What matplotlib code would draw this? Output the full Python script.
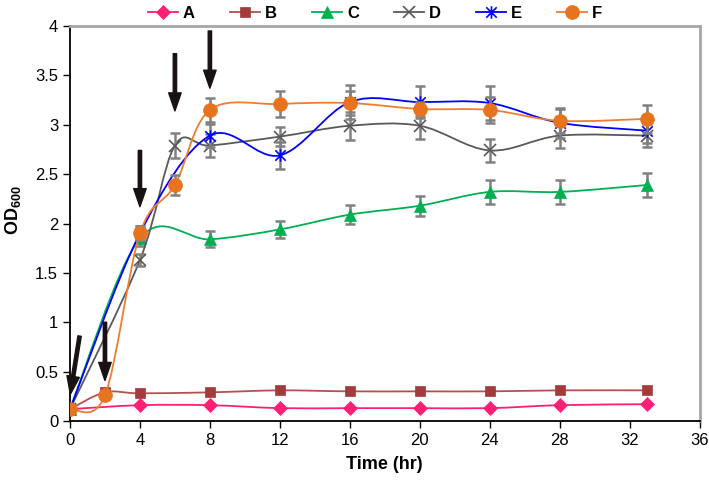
import numpy as np
import matplotlib
matplotlib.use("Agg")
from matplotlib import pyplot as plt
from matplotlib.path import Path
from matplotlib.patches import PathPatch
from matplotlib.lines import Line2D

plt.rcParams['font.family'] = ['Liberation Sans', 'DejaVu Sans']
plt.rcParams['mathtext.fontset'] = 'custom'
plt.rcParams['mathtext.rm'] = 'Liberation Sans'
plt.rcParams['mathtext.bf'] = 'Liberation Sans:bold'

# dados
t_A = [0, 4, 8, 12, 16, 20, 24, 28, 33]
od_A = [0.12, 0.16, 0.16, 0.13, 0.13, 0.13, 0.13, 0.16, 0.17]

t_B = [0, 2, 4, 8, 12, 16, 20, 24, 28, 33]
od_B = [0.12, 0.29, 0.28, 0.29, 0.31, 0.30, 0.30, 0.30, 0.31, 0.31]

t_C = [0, 4, 8, 12, 16, 20, 24, 28, 33]
od_C = [0.12, 1.85, 1.84, 1.94, 2.09, 2.18, 2.32, 2.32, 2.39]
err_C = [0.0, 0.08, 0.08, 0.09, 0.10, 0.10, 0.12, 0.12, 0.12]

t_D = [0, 4, 6, 8, 12, 16, 20, 24, 28, 33]
od_D = [0.12, 1.63, 2.79, 2.79, 2.88, 2.99, 2.99, 2.74, 2.89, 2.89]
err_D = [0.0, 0.06, 0.13, 0.12, 0.10, 0.14, 0.13, 0.12, 0.13, 0.12]

t_E = [0, 4, 8, 12, 16, 20, 24, 28, 33]
od_E = [0.12, 1.90, 2.89, 2.69, 3.23, 3.23, 3.22, 3.02, 2.94]
err_E = [0.0, 0.07, 0.12, 0.14, 0.17, 0.16, 0.17, 0.15, 0.12]

t_F = [0, 2, 4, 6, 8, 12, 16, 20, 24, 28, 33]
od_F = [0.12, 0.26, 1.90, 2.39, 3.15, 3.21, 3.22, 3.16, 3.15, 3.04, 3.06]
err_F = [0.0, 0.0, 0.07, 0.10, 0.12, 0.13, 0.12, 0.07, 0.13, 0.12, 0.14]

# setas (cauda -> ponta)
seta_cauda = [(0.55, 0.86), (2, 1.0), (4, 2.74), (6, 3.72), (8, 3.95)]
seta_ponta = [(0.02, 0.27), (2, 0.41), (4, 2.17), (6, 3.14), (8, 3.37)]

x_ticks = list(range(0, 37, 4))
y_ticks = [0, 0.5, 1, 1.5, 2, 2.5, 3, 3.5, 4]
y_labels = ['0', '0.5', '1', '1.5', '2', '2.5', '3', '3.5', '4']


def curva_suave(x, y):
    # curva tipo "smooth line" do Excel (Catmull-Rom em bezier)
    p = np.column_stack([x, y]).astype(float)
    n = len(p)
    verts = [p[0]]
    codes = [Path.MOVETO]
    for i in range(n - 1):
        p0 = p[i - 1] if i > 0 else p[i]
        p1 = p[i]
        p2 = p[i + 1]
        p3 = p[i + 2] if i + 2 < n else p[i + 1]
        verts += [p1 + (p2 - p0) / 6, p2 - (p3 - p1) / 6, p2]
        codes += [Path.CURVE4] * 3
    return Path(verts, codes)


fig = plt.figure(figsize=(7.09, 4.82), dpi=100)
ax = fig.add_axes([0.0987, 0.1266, 0.888, 0.8194])

series = [
    ("A", t_A, od_A, None, "#ff1f74", "D", 7, "#ff1f74"),
    ("B", t_B, od_B, None, "#b5504e", "s", 7.5, "#a33a3c"),
    ("C", t_C, od_C, err_C, "#00b050", "^", 8, "#00b050"),
    ("D", t_D, od_D, err_D, "#595959", "x", 9, "#595959"),
    ("E", t_E, od_E, err_E, "#0000ff", None, 9, "#0000ff"),
    ("F", t_F, od_F, err_F, "#ed7d31", "o", 10, "#e8731f"),
]

estrela = Path([(-1, -1), (1, 1), (-1, 1), (1, -1), (0, -1.2), (0, 1.2)],
               [Path.MOVETO, Path.LINETO, Path.MOVETO, Path.LINETO, Path.MOVETO, Path.LINETO])

handles = []
for k, (nome, t, od, err, cor, mk, ms, mcor) in enumerate(series):
    ax.add_patch(PathPatch(curva_suave(t, od), fill=False, edgecolor=cor, lw=1.3, zorder=2 + k))
    if err is not None:
        ax.errorbar(t, od, yerr=err, fmt='none', ecolor='#808080', elinewidth=1.8,
                    capsize=3.5, capthick=1.8, zorder=2 + k)
    marker = estrela if mk is None else mk
    ax.plot(t, od, linestyle='none', marker=marker, markersize=ms, color=mcor,
            markeredgewidth=1.2 if mk in (None, 'x') else 0.5, zorder=2.5 + k)
    handles.append(Line2D([0], [0], color=cor, lw=1.3, marker=marker, markersize=ms,
                          markerfacecolor=mcor, markeredgecolor=mcor,
                          markeredgewidth=1.2 if mk in (None, 'x') else 0.5))

for cauda, ponta in zip(seta_cauda, seta_ponta):
    ax.annotate('', xy=ponta, xytext=cauda,
                arrowprops=dict(facecolor='#1a1212', edgecolor='#1a1212', width=2.4,
                                headwidth=9, headlength=13, shrink=0),
                zorder=20)

ax.set_xlim(0, 36)
ax.set_ylim(0, 4)
ax.set_xticks(x_ticks)
ax.set_yticks(y_ticks)
ax.set_yticklabels(y_labels)
ax.tick_params(direction='out', length=5, width=1, labelsize=12, color='black')
for s in ['left', 'bottom']:
    ax.spines[s].set_color('black')
    ax.spines[s].set_linewidth(1.3)
for s in ['top', 'right']:
    ax.spines[s].set_color('#a6a6a6')
    ax.spines[s].set_linewidth(2)

ax.set_xlabel('Time (hr)', fontsize=13, fontweight='bold', labelpad=6)
ax.set_ylabel(r'OD$_{\mathbf{600}}$', fontsize=13, fontweight='bold')
ax.yaxis.set_label_coords(-0.074, 0.534)

fig.legend(handles, [s[0] for s in series], loc='center', bbox_to_anchor=(0.529, 0.972),
           ncol=6, frameon=False, handlelength=1.8, handletextpad=0.3, columnspacing=2.1,
           prop={'weight': 'bold', 'size': 12})

fig.savefig('out.png', dpi=100)
